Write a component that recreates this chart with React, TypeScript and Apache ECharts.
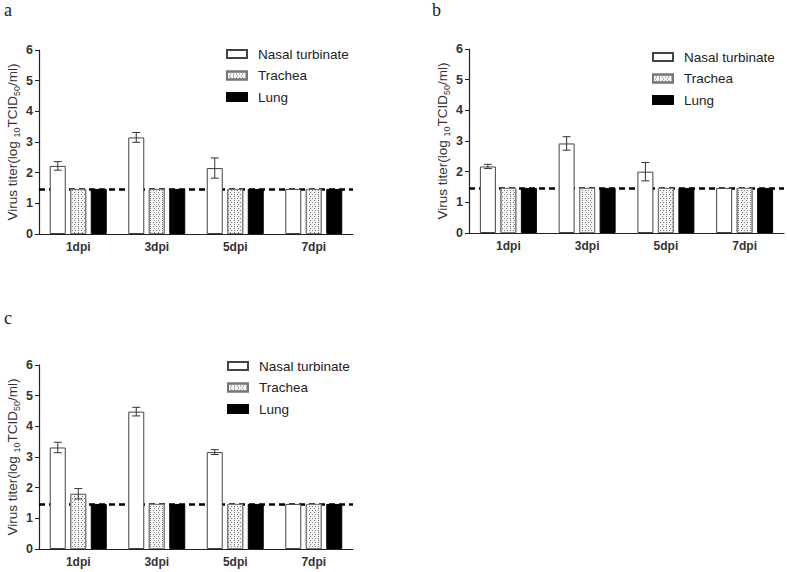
import React, { useEffect, useRef } from "react";
import * as echarts from "echarts";

const categories = ["1dpi", "3dpi", "5dpi", "7dpi"];
const tissueNames = ["Nasal turbinate", "Trachea", "Lung"];
const detectionLimit = 1.47;

// Panel a
const aNasal = [2.22, 3.15, 2.15, 1.47];
const aNasalSd = [0.14, 0.16, 0.33, 0];
const aTrachea = [1.47, 1.47, 1.47, 1.47];
const aTracheaSd = [0, 0, 0, 0];
const aLung = [1.47, 1.47, 1.47, 1.47];
const aLungSd = [0, 0, 0, 0];

// Panel b
const bNasal = [2.17, 2.92, 2.0, 1.47];
const bNasalSd = [0.07, 0.22, 0.3, 0];
const bTrachea = [1.47, 1.47, 1.47, 1.47];
const bTracheaSd = [0, 0, 0, 0];
const bLung = [1.47, 1.47, 1.47, 1.47];
const bLungSd = [0, 0, 0, 0];

// Panel c
const cNasal = [3.31, 4.48, 3.16, 1.47];
const cNasalSd = [0.17, 0.14, 0.08, 0];
const cTrachea = [1.8, 1.47, 1.47, 1.47];
const cTracheaSd = [0.17, 0, 0, 0];
const cLung = [1.47, 1.47, 1.47, 1.47];
const cLungSd = [0, 0, 0, 0];

const panelLetters = ["a", "b", "c"];

const FONT = "'Liberation Sans', Arial, sans-serif";
const BAR_W = 16;
const BAR_GAP = 4.5;

export default function App() {
  const ref = useRef<HTMLDivElement>(null);

  useEffect(() => {
    document.body.style.margin = "0";
    const chart = echarts.init(ref.current!, null, { renderer: "svg" });

    const panels = [
      { vals: [aNasal, aTrachea, aLung], sds: [aNasalSd, aTracheaSd, aLungSd] },
      { vals: [bNasal, bTrachea, bLung], sds: [bNasalSd, bTracheaSd, bLungSd] },
      { vals: [cNasal, cTrachea, cLung], sds: [cNasalSd, cTracheaSd, cLungSd] },
    ];

    const grids = [
      { left: 39, top: 50, width: 314, height: 184 },
      { left: 469, top: 49, width: 315, height: 184 },
      { left: 39, top: 365, width: 314, height: 184 },
    ];
    const legendPos = [
      { left: 226, top: 47 },
      { left: 652, top: 50 },
      { left: 227, top: 359 },
    ];
    const letterPos = [
      { x: 4, y: 1 },
      { x: 432, y: 1 },
      { x: 4, y: 309 },
    ];

    const tissueStyles = [
      { color: "#ffffff", borderColor: "#444", borderWidth: 1 },
      {
        color: "#f4f4f4",
        borderColor: "#777",
        borderWidth: 1,
        decal: {
          symbol: "rect",
          symbolSize: 1,
          dashArrayX: [
            [1, 2],
            [0, 1.5, 1, 0.5],
          ],
          dashArrayY: [1, 1],
          color: "#7a7a7a",
        },
      },
      { color: "#000000", borderColor: "#000", borderWidth: 1 },
    ];

    const series: any[] = [];
    panels.forEach((p, pi) => {
      p.vals.forEach((v, ti) => {
        const s: any = {
          type: "bar",
          name: tissueNames[ti],
          xAxisIndex: pi,
          yAxisIndex: pi,
          data: v,
          barWidth: BAR_W,
          barGap: (BAR_GAP / BAR_W) * 100 + "%",
          itemStyle: tissueStyles[ti],
          z: 2,
        };
        if (ti === 0) {
          s.markLine = {
            silent: true,
            symbol: "none",
            z: 1,
            label: { show: false },
            lineStyle: { color: "#000", type: [6, 4], width: 2.5 },
            data: [{ yAxis: detectionLimit }],
          };
        }
        series.push(s);
      });
      const errData: any[] = [];
      p.vals.forEach((v, ti) => {
        v.forEach((m, ci) => {
          if (p.sds[ti][ci] > 0) errData.push([ci, m, p.sds[ti][ci], ti]);
        });
      });
      series.push({
        type: "custom",
        xAxisIndex: pi,
        yAxisIndex: pi,
        z: 3,
        silent: true,
        encode: { x: 0, y: 1 },
        data: errData,
        renderItem: (params: any, api: any) => {
          const c = api.value(0);
          const m = api.value(1);
          const s = api.value(2);
          const k = api.value(3);
          const top = api.coord([c, m + s]);
          const bot = api.coord([c, m - s]);
          const x = top[0] + (k - 1) * (BAR_W + BAR_GAP);
          const cap = 4;
          const st = { stroke: "#333", lineWidth: 1 };
          return {
            type: "group",
            children: [
              { type: "line", shape: { x1: x, y1: top[1], x2: x, y2: bot[1] }, style: st },
              { type: "line", shape: { x1: x - cap, y1: top[1], x2: x + cap, y2: top[1] }, style: st },
              { type: "line", shape: { x1: x - cap, y1: bot[1], x2: x + cap, y2: bot[1] }, style: st },
            ],
          };
        },
      });
    });

    const option: any = {
      animation: false,
      backgroundColor: "#ffffff",
      grid: grids.map((g) => ({ ...g, containLabel: false })),
      xAxis: grids.map((_, i) => ({
        type: "category",
        gridIndex: i,
        data: categories,
        axisLine: { lineStyle: { color: "#222", width: 1.2 } },
        axisTick: { alignWithLabel: true, length: 4, lineStyle: { color: "#222" } },
        axisLabel: { fontFamily: FONT, fontSize: 12, fontWeight: "bold", color: "#333", margin: 7 },
        splitLine: { show: false },
      })),
      yAxis: grids.map((_, i) => ({
        type: "value",
        gridIndex: i,
        min: 0,
        max: 6,
        interval: 1,
        axisLine: { show: true, lineStyle: { color: "#222", width: 1.2 } },
        axisTick: { show: true, length: 4, lineStyle: { color: "#222" } },
        axisLabel: { fontFamily: FONT, fontSize: 12.5, fontWeight: "bold", color: "#333", margin: 6 },
        splitLine: { show: false },
        name: "{n|Virus titer(log }{s|10}{n|TCID}{s|50}{n|/ml)}",
        nameLocation: "middle",
        nameGap: 18,
        nameTextStyle: {
          rich: {
            n: { fontFamily: FONT, fontSize: 13.5, color: "#333", lineHeight: 17 },
            s: { fontFamily: FONT, fontSize: 9, color: "#333", lineHeight: 9, verticalAlign: "bottom" },
          },
        },
      })),
      legend: legendPos.map((lp) => ({
        ...lp,
        padding: 0,
        orient: "vertical",
        data: tissueNames,
        icon: "rect",
        itemWidth: 20,
        itemHeight: 8,
        itemGap: 7.5,
        selectedMode: false,
        textStyle: { fontFamily: FONT, fontSize: 13.5, color: "#222", lineHeight: 14, padding: [0, 0, 0, 6] },
      })),
      graphic: letterPos.map((lp, i) => ({
        type: "text",
        x: lp.x,
        y: lp.y,
        style: {
          text: panelLetters[i],
          font: "18px 'Liberation Serif', 'Times New Roman', serif",
          fill: "#222",
          verticalAlign: "top",
        },
      })),
      series,
    };

    chart.setOption(option);
    return () => chart.dispose();
  }, []);

  return (
    <div
      ref={ref}
      style={{ position: "absolute", left: 0, top: 0, width: 787, height: 572 }}
    />
  );
}
